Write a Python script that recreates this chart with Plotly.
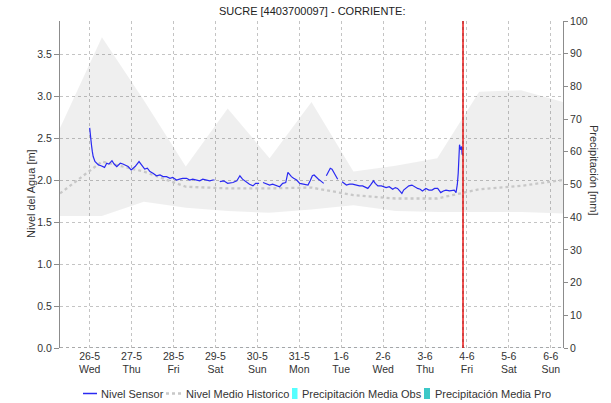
import plotly.graph_objects as go

# Historical statistics of the water level, one value per day at 07:00
hist_time = [
    "2021-05-25 07:00", "2021-05-26 07:00", "2021-05-27 07:00", "2021-05-28 07:00",
    "2021-05-29 07:00", "2021-05-30 07:00", "2021-05-31 07:00", "2021-06-01 07:00",
    "2021-06-02 07:00", "2021-06-03 07:00", "2021-06-04 07:00", "2021-06-05 07:00",
    "2021-06-06 07:00",
]
hist_max = [2.62, 3.70, 2.95, 2.16, 2.85, 2.26, 2.93, 2.10, 2.17, 2.26, 3.05, 3.07, 2.93]
hist_min = [1.57, 1.57, 1.74, 1.67, 1.63, 1.61, 1.65, 1.70, 1.63, 1.62, 1.62, 1.62, 1.60]
hist_mean = [1.84, 2.22, 2.10, 1.92, 1.90, 1.90, 1.91, 1.82, 1.78, 1.78, 1.89, 1.93, 2.00]

# Sensor readings (None = no data)
sensor_time = [
    "2021-05-26 00:00", "2021-05-26 00:30", "2021-05-26 01:00", "2021-05-26 01:30",
    "2021-05-26 02:00", "2021-05-26 03:00", "2021-05-26 04:00", "2021-05-26 05:00",
    "2021-05-26 06:30", "2021-05-26 08:30", "2021-05-26 09:45", "2021-05-26 11:00",
    "2021-05-26 12:45", "2021-05-26 14:00", "2021-05-26 15:30", "2021-05-26 17:30",
    "2021-05-26 19:00", "2021-05-26 20:15", "2021-05-26 22:00", "2021-05-26 23:45",
    "2021-05-27 02:00", "2021-05-27 04:15", "2021-05-27 06:00", "2021-05-27 07:30",
    "2021-05-27 09:00", "2021-05-27 10:30", "2021-05-27 12:15", "2021-05-27 14:15",
    "2021-05-27 16:15", "2021-05-27 18:00", "2021-05-27 20:00", "2021-05-27 22:00",
    "2021-05-27 23:30",
    "2021-05-28 01:45", "2021-05-28 03:30", "2021-05-28 05:15", "2021-05-28 07:30",
    "2021-05-28 09:15", "2021-05-28 11:00", "2021-05-28 13:00", "2021-05-28 15:00",
    "2021-05-28 16:45", "2021-05-28 19:00", "2021-05-28 20:45", "2021-05-28 22:30",
    "2021-05-28 23:30",
    "2021-05-29 01:00",
    "2021-05-29 02:30", "2021-05-29 04:45", "2021-05-29 07:00", "2021-05-29 10:00",
    "2021-05-29 12:15", "2021-05-29 14:00", "2021-05-29 15:30", "2021-05-29 17:45",
    "2021-05-29 19:30", "2021-05-29 21:30", "2021-05-29 23:00",
    "2021-05-30 01:00",
    "2021-05-30 02:00",
    "2021-05-30 03:15", "2021-05-30 04:45", "2021-05-30 07:00", "2021-05-30 08:45",
    "2021-05-30 11:00", "2021-05-30 12:45", "2021-05-30 14:30", "2021-05-30 16:15",
    "2021-05-30 17:30", "2021-05-30 18:30", "2021-05-30 19:30", "2021-05-30 20:45",
    "2021-05-30 22:30",
    "2021-05-31 00:15", "2021-05-31 02:30", "2021-05-31 05:00", "2021-05-31 06:15",
    "2021-05-31 07:30", "2021-05-31 08:30", "2021-05-31 09:45", "2021-05-31 11:00",
    "2021-05-31 12:15", "2021-05-31 14:00",
    "2021-05-31 14:45",
    "2021-05-31 15:30", "2021-05-31 16:30", "2021-05-31 17:45", "2021-05-31 18:45",
    "2021-05-31 19:30", "2021-05-31 20:45", "2021-05-31 22:00",
    "2021-05-31 23:00",
    "2021-06-01 00:30", "2021-06-01 03:00", "2021-06-01 04:45", "2021-06-01 06:30",
    "2021-06-01 08:45", "2021-06-01 10:30", "2021-06-01 12:15", "2021-06-01 14:00",
    "2021-06-01 15:15", "2021-06-01 16:45", "2021-06-01 18:30", "2021-06-01 19:30",
    "2021-06-01 21:00", "2021-06-01 23:00",
    "2021-06-02 01:45", "2021-06-02 03:30", "2021-06-02 05:30", "2021-06-02 07:00",
    "2021-06-02 08:15", "2021-06-02 09:30", "2021-06-02 10:45", "2021-06-02 11:45",
    "2021-06-02 13:00", "2021-06-02 14:45", "2021-06-02 16:30", "2021-06-02 18:00",
    "2021-06-02 19:45", "2021-06-02 21:15", "2021-06-02 22:30",
    "2021-06-03 00:30", "2021-06-03 02:15", "2021-06-03 04:00", "2021-06-03 05:30",
    "2021-06-03 07:15", "2021-06-03 09:00", "2021-06-03 10:30", "2021-06-03 12:00",
    "2021-06-03 14:00", "2021-06-03 15:30", "2021-06-03 16:45", "2021-06-03 17:45",
    "2021-06-03 18:30", "2021-06-03 19:00", "2021-06-03 19:30", "2021-06-03 19:45",
    "2021-06-03 20:15", "2021-06-03 20:30", "2021-06-03 21:00", "2021-06-03 21:15",
]
sensor_level = [
    2.62, 2.55, 2.42, 2.34, 2.28, 2.22, 2.20, 2.18,
    2.17, 2.15, 2.20, 2.19, 2.23, 2.19, 2.16, 2.20,
    2.19, 2.18, 2.16, 2.12,
    2.16, 2.22, 2.17, 2.13, 2.14, 2.10, 2.08, 2.05,
    2.06, 2.04, 2.04, 2.02, 2.03,
    2.00, 2.01, 2.02, 2.02, 2.00, 2.01, 2.00, 1.99,
    2.01, 2.00, 1.99, 2.00, 2.00,
    None,
    1.98, 1.99, 1.96, 1.97, 1.99, 2.05, 2.01, 1.97,
    1.95, 1.93, 1.96,
    1.96,
    None,
    1.97, 1.96, 1.94, 1.95, 1.93, 1.92, 1.96, 1.97,
    2.09, 2.06, 2.04, 2.02, 2.00,
    1.96, 1.95, 1.94, 1.99, 2.05, 2.06, 2.03, 2.01,
    1.99, 1.96,
    None,
    2.05, 2.10, 2.14, 2.13, 2.10, 2.05, 2.01,
    None,
    1.98, 1.94, 1.95, 1.95, 1.94, 1.93, 1.93, 1.91,
    1.90, 1.94, 1.99, 1.96, 1.93, 1.93,
    1.91, 1.92, 1.89, 1.91, 1.90, 1.87, 1.84, 1.88,
    1.90, 1.93, 1.94, 1.92, 1.90, 1.89, 1.87,
    1.90, 1.88, 1.88, 1.90, 1.90, 1.85, 1.87, 1.88,
    1.87, 1.88, 1.88, 1.85, 1.95, 2.08, 2.30, 2.42,
    2.38, 2.36, 2.40, 2.30,
]

# Daily precipitation (observed up to today, forecast afterwards)
precip_obs_time = [
    "2021-05-26 12:00", "2021-05-27 12:00", "2021-05-28 12:00", "2021-05-29 12:00",
    "2021-05-30 12:00", "2021-05-31 12:00", "2021-06-01 12:00", "2021-06-02 12:00",
    "2021-06-03 12:00",
]
precip_obs = [0.0, 0.0, 0.0, 0.0, 0.0, 0.0, 0.0, 0.0, 0.0]
precip_pro_time = ["2021-06-04 12:00", "2021-06-05 12:00", "2021-06-06 12:00"]
precip_pro = [0.0, 0.0, 0.0]

# Axis ticks
day_ticks = [
    "2021-05-26", "2021-05-27", "2021-05-28", "2021-05-29", "2021-05-30", "2021-05-31",
    "2021-06-01", "2021-06-02", "2021-06-03", "2021-06-04", "2021-06-05", "2021-06-06",
]
day_labels = [
    "26-5<br>Wed", "27-5<br>Thu", "28-5<br>Fri", "29-5<br>Sat", "30-5<br>Sun", "31-5<br>Mon",
    "1-6<br>Tue", "2-6<br>Wed", "3-6<br>Thu", "4-6<br>Fri", "5-6<br>Sat", "6-6<br>Sun",
]
x_range = ["2021-05-25 07:00", "2021-06-06 07:00"]
now_time = "2021-06-03 21:45"

title_text = "SUCRE [4403700097] - CORRIENTE:"

SENSOR_COLOR = "#2a2af2"
MEAN_COLOR = "#c8c8c8"
OBS_COLOR = "#55ffff"
PRO_COLOR = "#3cc8c8"
GRID_COLOR = "#c4c4c4"
AXIS_COLOR = "#8c8c8c"
TEXT_COLOR = "#333333"
FONT = "Liberation Sans, Arial, sans-serif"

fig = go.Figure()

# Historical min-max envelope
fig.add_trace(go.Scatter(
    x=hist_time, y=hist_min, mode="lines", line=dict(width=0),
    hoverinfo="skip", showlegend=False,
))
fig.add_trace(go.Scatter(
    x=hist_time, y=hist_max, mode="lines", line=dict(width=0),
    fill="tonexty", fillcolor="rgba(0,0,0,0.062)",
    hoverinfo="skip", showlegend=False,
))
# Historical mean level
fig.add_trace(go.Scatter(
    x=hist_time, y=hist_mean, mode="lines", name="Nivel Medio Historico",
    line=dict(color=MEAN_COLOR, width=2.3, dash="dot"), showlegend=False,
))
# Sensor level
fig.add_trace(go.Scatter(
    x=sensor_time, y=sensor_level, mode="lines", name="Nivel Sensor",
    line=dict(color=SENSOR_COLOR, width=1.2), connectgaps=False, showlegend=False,
))
# Precipitation bars on the secondary axis
fig.add_trace(go.Bar(
    x=precip_obs_time, y=precip_obs, name="Precipitación Media Obs",
    marker=dict(color=OBS_COLOR), yaxis="y2", showlegend=False,
))
fig.add_trace(go.Bar(
    x=precip_pro_time, y=precip_pro, name="Precipitación Media Pro",
    marker=dict(color=PRO_COLOR), yaxis="y2", showlegend=False,
))

# Plot-area geometry in pixels, used for placing the legend and titles
W, H = 611, 403
ML, MR, MT, MB = 60, 48, 21, 55
PW, PH = W - ML - MR, H - MT - MB


def px(xp):
    return (xp - ML) / PW


def py(yp):
    return (H - MB - yp) / PH


shapes = [
    # dotted base line
    dict(type="line", xref="paper", yref="y", x0=0, x1=1, y0=0, y1=0,
         line=dict(color="#555555", width=1, dash="dot"), layer="above"),
    # current time marker
    dict(type="line", xref="x", yref="paper", x0=now_time, x1=now_time, y0=0, y1=1,
         line=dict(color="#ee1a1a", width=1.5), layer="above"),
    dict(type="line", xref="x", yref="paper", x0=now_time, x1=now_time, y0=0, y1=1,
         line=dict(color="#9a2020", width=0.7, dash="dot"), layer="above"),
]

# Legend row
LEG_Y = 393.5
shapes += [
    dict(type="line", xref="paper", yref="paper", x0=px(83), x1=px(97), y0=py(LEG_Y), y1=py(LEG_Y),
         line=dict(color=SENSOR_COLOR, width=1.5)),
    dict(type="line", xref="paper", yref="paper", x0=px(166), x1=px(181), y0=py(LEG_Y), y1=py(LEG_Y),
         line=dict(color=MEAN_COLOR, width=2.3, dash="dot")),
    dict(type="rect", xref="paper", yref="paper", x0=px(292), x1=px(297.5), y0=py(399), y1=py(388),
         line=dict(width=0), fillcolor=OBS_COLOR),
    dict(type="rect", xref="paper", yref="paper", x0=px(424), x1=px(430), y0=py(399), y1=py(388),
         line=dict(width=0), fillcolor=PRO_COLOR),
]

annotations = [
    dict(text=title_text, xref="paper", yref="paper", x=0.5, y=py(10.5),
         xanchor="center", yanchor="middle", showarrow=False,
         font=dict(size=11, color="#222222")),
    dict(text="Nivel del Agua [m]", xref="paper", yref="paper", x=px(31), y=py(194),
         xanchor="center", yanchor="middle", textangle=-90, showarrow=False,
         font=dict(size=11, color=TEXT_COLOR)),
    dict(text="Precipitación [mm]", xref="paper", yref="paper", x=px(594), y=py(170),
         xanchor="center", yanchor="middle", textangle=90, showarrow=False,
         font=dict(size=11, color=TEXT_COLOR)),
]
for label, xp in [("Nivel Sensor", 98.5), ("Nivel Medio Historico", 184),
                  ("Precipitación Media Obs", 300), ("Precipitación Media Pro", 433)]:
    annotations.append(dict(
        text=label, xref="paper", yref="paper", x=px(xp), y=py(LEG_Y),
        xanchor="left", yanchor="middle", showarrow=False,
        font=dict(size=11, color=TEXT_COLOR),
    ))

fig.update_layout(
    width=W, height=H,
    margin=dict(l=ML, r=MR, t=MT, b=MB, pad=0),
    paper_bgcolor="white", plot_bgcolor="white",
    font=dict(family=FONT, size=10.5, color=TEXT_COLOR),
    showlegend=False,
    bargap=0.2,
    xaxis=dict(
        type="date", range=x_range,
        tickmode="array", tickvals=day_ticks, ticktext=day_labels,
        showgrid=True, gridcolor=GRID_COLOR, griddash="dot", gridwidth=1,
        showline=False, zeroline=False, ticks="",
        tickfont=dict(size=10.5, color=TEXT_COLOR),
    ),
    yaxis=dict(
        range=[0, 3.893], tickmode="linear", tick0=0, dtick=0.5, tickformat=".1f",
        showgrid=True, gridcolor=GRID_COLOR, griddash="dot", gridwidth=1,
        showline=True, linecolor=AXIS_COLOR, linewidth=1,
        ticks="outside", ticklen=5, tickcolor=AXIS_COLOR, zeroline=False,
        tickfont=dict(size=10.5, color=TEXT_COLOR),
    ),
    yaxis2=dict(
        overlaying="y", side="right", range=[0, 100], tickmode="linear", tick0=0, dtick=10,
        showgrid=False, showline=True, linecolor=AXIS_COLOR, linewidth=1,
        ticks="outside", ticklen=4, tickcolor=AXIS_COLOR, zeroline=False,
        tickfont=dict(size=10.5, color=TEXT_COLOR),
    ),
    shapes=shapes,
    annotations=annotations,
)

fig.write_html("out.html")
